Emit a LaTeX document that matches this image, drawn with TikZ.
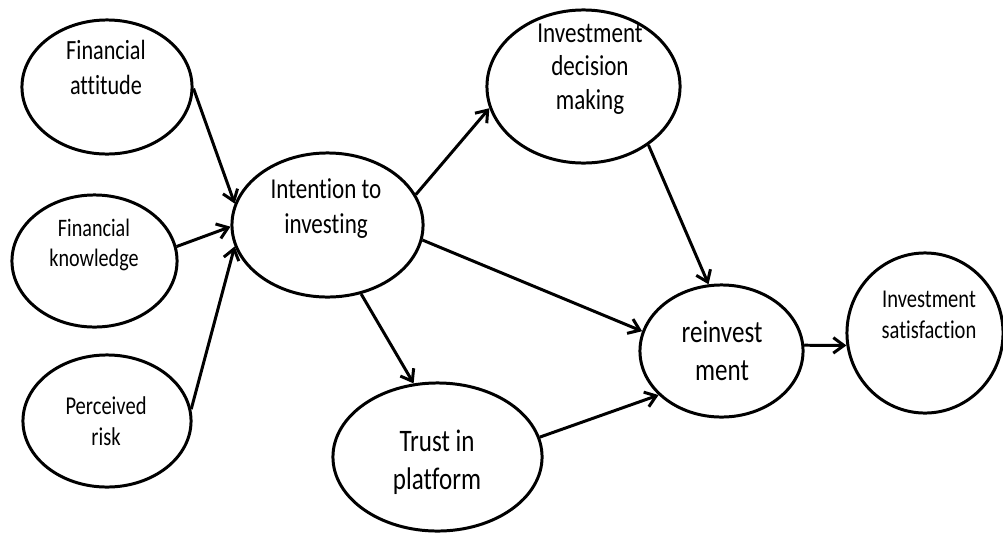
\documentclass[tikz,border=0pt]{standalone}
\usepackage{fontspec}
\setmainfont{Carlito}[FakeStretch=0.8,Ligatures=CommonOff]
\usetikzlibrary{shapes.geometric,arrows.meta}
\newcommand{\fs}[2]{\fontsize{#1pt}{#2pt}\selectfont}
\begin{document}
\begin{tikzpicture}[x=0.01cm,y=-0.01cm,
  bub/.style={draw, ellipse, line width=0.85pt, inner sep=0pt},
  lbl/.style={anchor=base, align=center, inner sep=0pt},
  link/.style={-{Straight Barb[length=3pt,width=4.4pt]}, line width=0.85pt}]
\useasboundingbox (0,0) rectangle (1003,533);

% constructs
\node[bub, minimum width=1.70cm, minimum height=1.34cm] (fa)  at (107,87)    {};
\node[bub, minimum width=1.65cm, minimum height=1.32cm] (fk)  at (94.5,261)  {};
\node[bub, minimum width=1.68cm, minimum height=1.32cm] (pr)  at (107,421)   {};
\node[bub, minimum width=1.91cm, minimum height=1.44cm] (int) at (327.5,225) {};
\node[bub, minimum width=1.93cm, minimum height=1.53cm] (idm) at (583.5,86.5){};
\node[bub, minimum width=1.63cm, minimum height=1.32cm] (re)  at (721.5,351) {};
\node[bub, minimum width=1.56cm, minimum height=1.60cm] (sat) at (925,333)   {};
\node[bub, minimum width=2.09cm, minimum height=1.48cm] (tr)  at (437.5,457) {};

% labels (base anchor sits on the last line's baseline)
\node[lbl, font=\fs{7.9}{9.95}] (fa-t)  at (106,94)  {Financial\\attitude};
\node[lbl, font=\fs{7.15}{8.5}] (fk-t)  at (94,266)  {Financial\\knowledge};
\node[lbl, font=\fs{7.3}{8.8}]  (pr-t)  at (106,445) {Perceived\\risk};
\node[lbl, font=\fs{8.2}{9.95}] (int-t) at (326,233) {Intention to\\investing};
\node[lbl, font=\fs{8.2}{9.5}]  (idm-t) at (590,109) {Investment\\decision\\making};
\node[lbl, font=\fs{8.9}{10.8}] (re-t)  at (722,380) {reinvest\\ment};
\node[lbl, font=\fs{7.3}{8.8}]  (sat-t) at (929,338) {Investment\\satisfaction};
\node[lbl, font=\fs{8.9}{10.8}] (tr-t)  at (437,489) {Trust in\\platform};

% paths
\draw[link] (fa.-1)    -- (int.167);
\draw[link] (fk.10)    -- (int.181);
\draw[link] (pr.8)     -- (int.193);
\draw[link] (int.19)   -- (idm.193);
\draw[link] (int.-9.5) -- (re.166);
\draw[link] (int.-64)  -- (tr.108);
\draw[link] (idm.-42)  -- (re.101);
\draw[link] (tr.11)    -- (re.215);
\draw[link] (re.4)     -- (sat.189);
\end{tikzpicture}
\end{document}
